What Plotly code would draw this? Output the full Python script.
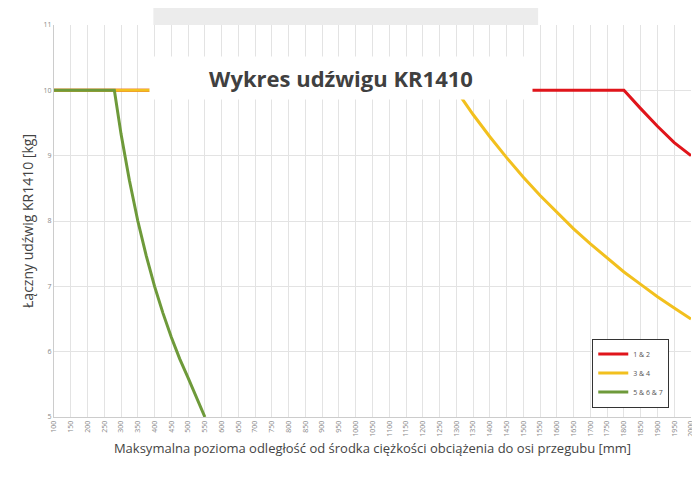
import plotly.graph_objects as go

x_ticks = list(range(100, 2001, 50))

red_x = [100, 1800, 1850, 1900, 1950, 2000]
red_y = [10, 10, 9.72, 9.45, 9.2, 9.0]

yellow_x = [100, 1300, 1350, 1400, 1450, 1500, 1550, 1600, 1650, 1700, 1750, 1800, 1850, 1900, 1950, 2000]
yellow_y = [10, 10, 9.63, 9.29, 8.97, 8.67, 8.39, 8.13, 7.88, 7.65, 7.43, 7.22, 7.03, 6.84, 6.67, 6.5]

green_x = [100, 280, 300, 325, 350, 375, 400, 425, 450, 475, 500, 525, 550]
green_y = [10, 10, 9.33, 8.62, 8.0, 7.47, 7.0, 6.59, 6.22, 5.89, 5.6, 5.3, 5.0]

fig = go.Figure()
fig.add_trace(go.Scatter(x=red_x, y=red_y, mode='lines', name='1 & 2', line=dict(color='#e0151b', width=3)))
fig.add_trace(go.Scatter(x=yellow_x, y=yellow_y, mode='lines', name='3 & 4', line=dict(color='#f2c01e', width=3)))
fig.add_trace(go.Scatter(x=green_x, y=green_y, mode='lines', name='5 & 6 & 7', line=dict(color='#6e9a3a', width=3)))

fig.update_layout(
    width=700, height=479,
    margin=dict(l=46, r=17, t=14, b=70),
    paper_bgcolor='white', plot_bgcolor='white',
    font=dict(family='Open Sans', color='#555'),
    xaxis=dict(range=[100, 2000], tickvals=x_ticks, tickangle=-90, tickfont=dict(size=7, color='#888'),
               showgrid=True, gridcolor='#e3e3e3', zeroline=False, showline=True, linecolor='#ccc',
               title=dict(text='Maksymalna pozioma odległość od środka ciężkości obciążenia do osi przegubu [mm]',
                          font=dict(size=13, color='#444'), standoff=8)),
    yaxis=dict(range=[5, 11], dtick=1, tickfont=dict(size=7, color='#888'),
               showgrid=True, gridcolor='#e3e3e3', zeroline=False, showline=True, linecolor='#ccc',
               title=dict(text='Łączny udźwig KR1410 [kg]', font=dict(size=14, color='#444'), standoff=6)),
    legend=dict(x=0.845, y=0.2, xanchor='left', yanchor='top', bgcolor='white',
                bordercolor='#333', borderwidth=1, font=dict(size=7, color='#555'),
                tracegroupgap=8, itemwidth=30),
    showlegend=True,
)
fig.add_shape(type='rect', xref='paper', yref='paper', x0=0.156, x1=0.76, y0=1.0, y1=1.06,
              fillcolor='#ececec', line=dict(width=0), layer='below')
fig.add_annotation(text='<b>Wykres udźwigu KR1410</b>', xref='paper', yref='paper', x=0.45, y=0.92,
                   showarrow=False, font=dict(size=22, color='#404040'), bgcolor='white',
                   width=380, height=40)
fig.write_html("out.html")
